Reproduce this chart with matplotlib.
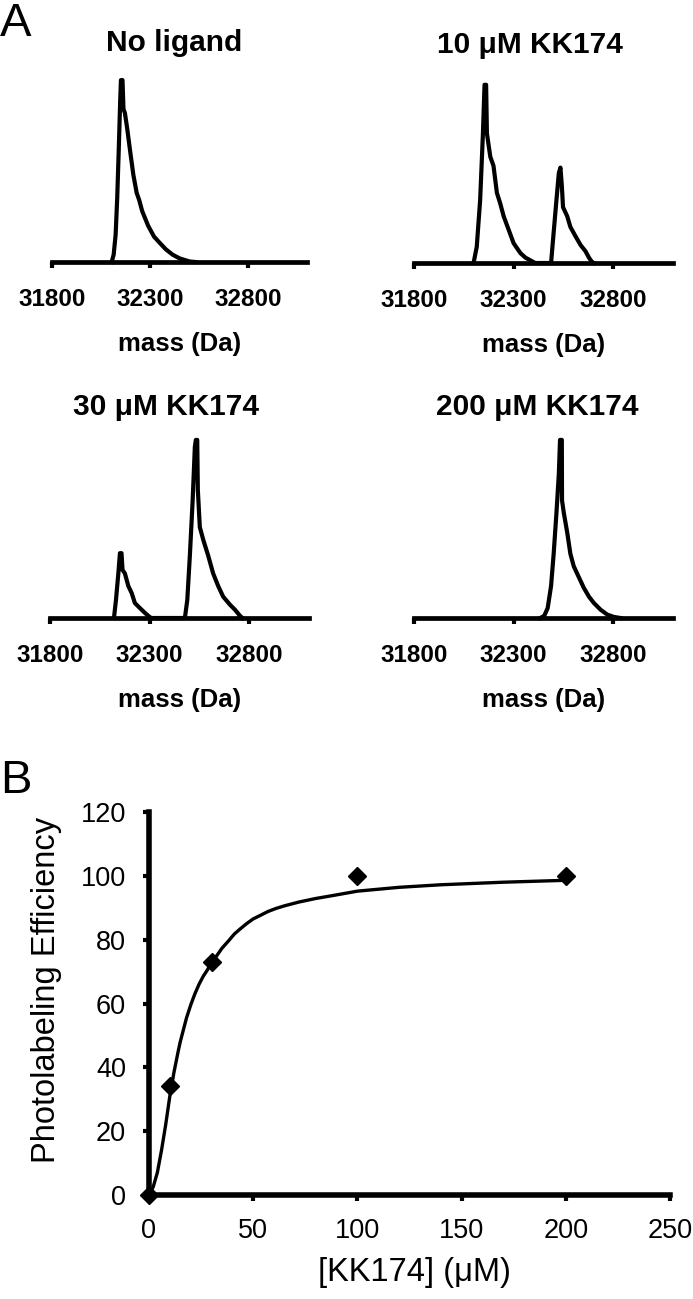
import matplotlib
matplotlib.use('Agg')
import matplotlib.pyplot as plt

plt.rcParams['font.family'] = ['Liberation Sans', 'DejaVu Sans']

# ---------------- data ----------------
panel_titles = ['No ligand', '10 \u03bcM KK174', '30 \u03bcM KK174', '200 \u03bcM KK174']
mass_ticks = [31800, 32300, 32800]
mass_min, mass_max = 31800, 33100

nl_mass = [32105, 32115, 32125, 32133, 32141, 32148, 32152, 32160, 32165, 32172, 32183,
           32200, 32215, 32232, 32245, 32260, 32290, 32320, 32345, 32380, 32415, 32450,
           32500, 32530]
nl_int = [0, 4, 15, 35, 62, 88, 100, 100, 84, 82, 74, 60, 48, 38, 34, 28, 20, 14, 11, 7, 4,
          2, 0.3, 0]

k10_mass = [32099, 32115, 32132, 32146, 32154, 32162, 32166, 32183, 32199, 32216, 32233,
            32250, 32275, 32300, 32334, 32359, 32392, 32409,
            32488, 32501, 32515, 32527, 32535, 32542, 32548, 32569, 32585, 32610, 32636,
            32661, 32678, 32694, 32703]
k10_int = [0, 9, 35, 72, 99, 99, 72, 59, 54, 39, 33, 26, 18.5, 11, 5.5, 3, 1, 0,
           0, 17, 35, 50, 53, 43, 31, 26, 20, 15, 10, 6.5, 3, 0.5, 0]

k30_mass = [32121, 32131, 32143, 32151, 32159, 32164, 32176, 32193, 32210, 32226, 32251,
            32277, 32302, 32310,
            32477, 32489, 32502, 32516, 32527, 32532, 32539, 32542, 32552, 32569, 32594,
            32619, 32644, 32669, 32703, 32728, 32753, 32766]
k30_int = [0, 10, 25, 36.4, 36.4, 27, 25, 18, 14, 8.4, 5.6, 2.8, 0.4, 0,
           0, 10, 35, 66, 96, 100, 100, 72, 51, 44, 35, 25, 18, 12, 7.5, 4.7, 1.3, 0]

k200_mass = [32434, 32454, 32471, 32488, 32501, 32515, 32527, 32533, 32542, 32543, 32552,
             32569, 32585, 32602, 32627, 32652, 32678, 32703, 32736, 32770, 32803, 32837]
k200_int = [0, 1.3, 5.6, 18, 36, 59, 81, 100, 100, 66, 59, 48, 36, 29, 23, 17, 12, 8.4,
            4.7, 1.9, 0.6, 0]

conc = [0, 10, 30, 100, 200]
efficiency = [0, 34, 73, 100, 100]
fit_conc = [0, 2, 4, 6, 8, 10, 12, 14, 15, 17, 18, 20, 22, 24, 26, 28, 30, 32, 35, 38, 41,
            44, 47, 50, 54, 57, 61, 65, 72, 80, 88, 100, 120, 140, 170, 200]
fit_eff = [0, 2.5, 7, 14, 22, 31, 38.5, 45, 48, 53, 55.5, 59.5, 63, 66, 68.5, 70.5, 72.8,
           74.5, 77.3, 79.5, 81.8, 83.5, 85.1, 86.5, 87.8, 88.8, 89.8, 90.6, 91.8, 92.9,
           93.8, 95.2, 96.4, 97.2, 98.0, 98.6]
b_xticks = [0, 50, 100, 150, 200, 250]
b_yticks = [0, 20, 40, 60, 80, 100, 120]

# ---------------- layout ----------------
W, H = 693, 1299
fig = plt.figure(figsize=(W / 100, H / 100), dpi=100)


def rect(left, right, base, height):
    return [left / W, 1 - base / H, (right - left) / W, height / H]


spectra = [(nl_mass, nl_int), (k10_mass, k10_int), (k30_mass, k30_int), (k200_mass, k200_int)]
a_rects = [rect(51.7, 307.4, 262, 191), rect(414, 673, 263, 189),
           rect(50, 309, 618, 187), rect(414, 673, 618, 187)]
title_pos = [(174, 51), (530, 53), (166, 415), (537, 415)]

for (m, inten), r, title, (tx, ty) in zip(spectra, a_rects, panel_titles, title_pos):
    ax = fig.add_axes(r)
    ax.plot(m, inten, color='black', lw=3.0, clip_on=False, zorder=3,
            solid_joinstyle='round')
    ax.set_xlim(mass_min, mass_max)
    ax.set_ylim(0, 105)
    for s in ['top', 'right', 'left']:
        ax.spines[s].set_visible(False)
    ax.spines['bottom'].set_linewidth(3.4)
    ax.set_yticks([])
    ax.set_xticks(mass_ticks)
    ax.set_xticklabels([str(t) for t in mass_ticks], fontweight='bold')
    ax.tick_params(axis='x', direction='out', length=4.5, width=3, pad=14,
                   labelsize=17.5)
    ax.set_xlabel('mass (Da)', fontsize=18.5, fontweight='bold')
    hpx = r[3] * H
    ax.xaxis.set_label_coords(0.5, -70 / hpx)
    fig.text(tx / W, 1 - ty / H, title, ha='center', va='baseline',
             fontsize=21.5, fontweight='bold')

fig.text(0, 1 - 36 / H, 'A', fontsize=34, ha='left', va='baseline')
fig.text(0, 1 - 793 / H, 'B', fontsize=34, ha='left', va='baseline')

# ---------------- panel B ----------------
axb = fig.add_axes(rect(149, 670, 1195, 383))
axb.plot(fit_conc, fit_eff, color='black', lw=2.4, zorder=3)
axb.plot(conc, efficiency, linestyle='none', marker='D', ms=9.4, color='black',
         zorder=4, clip_on=False)
axb.set_xlim(0, 250)
axb.set_ylim(0, 120)
axb.spines['top'].set_visible(False)
axb.spines['right'].set_visible(False)
axb.spines['left'].set_linewidth(4)
axb.spines['bottom'].set_linewidth(4)
axb.set_xticks(b_xticks)
axb.set_yticks(b_yticks)
axb.tick_params(direction='out', length=4.5, width=3, pad=12, labelsize=19.5)
axb.set_xlabel('[KK174] (\u03bcM)', fontsize=23.5)
axb.set_ylabel('Photolabeling Efficiency', fontsize=23.5)
axb.xaxis.set_label_coords(0.509, -62 / 383)
axb.yaxis.set_label_coords(-87 / 521, 0.535)

fig.savefig('out.png', dpi=100)
